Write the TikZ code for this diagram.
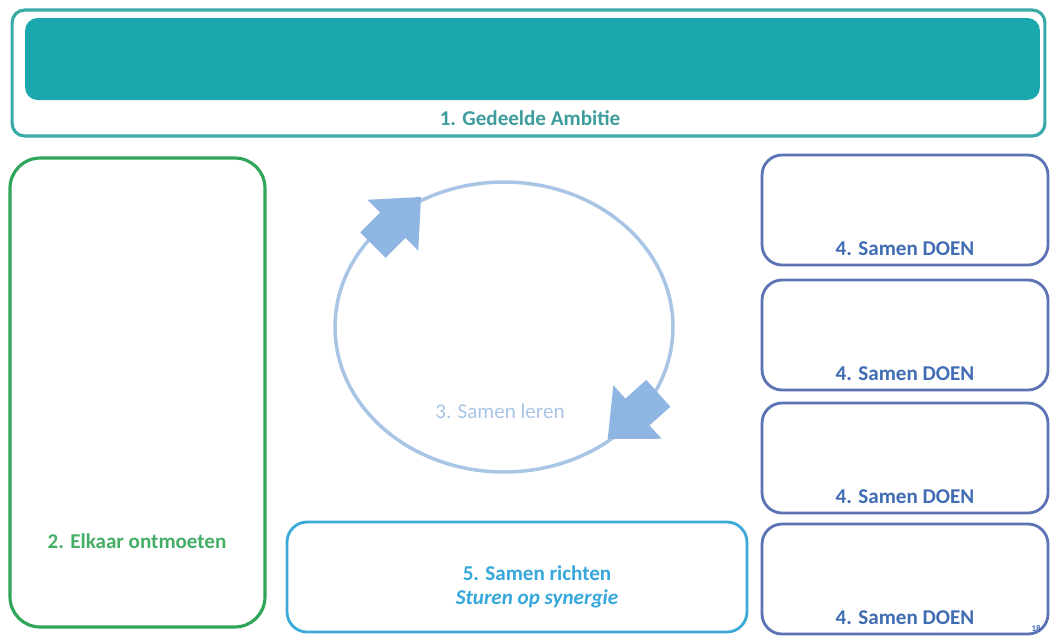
\documentclass[tikz,border=0pt]{standalone}
\usepackage{fontspec}
\setmainfont{Carlito}

\definecolor{tealfill}{HTML}{1AA8AE}
\definecolor{tealline}{HTML}{3AAAA8}
\definecolor{tealtext}{HTML}{3E9C9C}
\definecolor{greenline}{HTML}{2FA65A}
\definecolor{greentext}{HTML}{45AE66}
\definecolor{cycleline}{HTML}{A9C5E5}
\definecolor{cyclefill}{HTML}{8FB5E3}
\definecolor{doeline}{HTML}{5B72B5}
\definecolor{doetext}{HTML}{406CB3}
\definecolor{richtline}{HTML}{3BAAD8}
\definecolor{richttext}{HTML}{36A7DB}

\tikzset{
  label font/.style={font=\fontsize{12}{14}\selectfont\bfseries},
  doebox/.style={draw=doeline,line width=1.6pt,rounded corners=0.4cm,
    minimum width=5.72cm,minimum height=2.2cm},
  doelabel/.style={label font,text=doetext}
}

\begin{document}
\begin{tikzpicture}[x=0.02cm,y=-0.02cm]
        \useasboundingbox[fill=white] (0,0) rectangle (1050,637);

        % 1. shared ambition
        \node[draw=tealline,line width=1.8pt,rounded corners=0.25cm,
              minimum width=20.66cm,minimum height=2.52cm] (ambitie) at (528.5,73) {};
        \node[fill=tealfill,rounded corners=0.25cm,
              minimum width=20.3cm,minimum height=1.64cm] (banner) at (532.5,59) {};
        \node[label font,text=tealtext] (ambitielabel) at (530,118) {1. Gedeelde Ambitie};

        % 2. meeting
        \node[draw=greenline,line width=1.8pt,rounded corners=0.6cm,
              minimum width=5.1cm,minimum height=9.38cm] (ontmoeten) at (137.5,392.5) {};
        \node[label font,text=greentext] (ontmoetenlabel) at (137,541) {2. Elkaar ontmoeten};

        % 3. learning cycle
        \draw[cycleline,line width=2pt] (504,327) ellipse [x radius=3.38cm,y radius=2.9cm];
        \foreach \px/\py/\a in {397/221/45,633/416/222}{
          \begin{scope}[shift={(\px,\py)},x=1cm,y=1cm,rotate=\a]
            \fill[cyclefill] (-0.68,-0.36) -- (-0.12,-0.36) -- (-0.12,-0.72) -- (0.68,0)
              -- (-0.12,0.72) -- (-0.12,0.36) -- (-0.68,0.36) -- cycle;
          \end{scope}
        }
        \node[font=\fontsize{12}{14}\selectfont,text=cycleline] (lerenlabel) at (500,411) {3. Samen leren};

        % 4. doing together
        \foreach \y/\n in {210/1,335/2,458/3,579/4}{
          \node[doebox] (doen\n) at (905,\y) {};
          \node[doelabel,above=0.1cm] (doenlabel\n) at (doen\n.south) {4. Samen DOEN};
        }

        % 5. steering
        \node[draw=richtline,line width=1.6pt,rounded corners=0.4cm,
              minimum width=9.2cm,minimum height=2.2cm] (richten) at (517,577) {};
        \node[label font,text=richttext,align=center] (richtenlabel) at (537,587)
              {5. Samen richten\\\itshape Sturen op synergie};

        \node[font=\fontsize{5}{6}\selectfont\bfseries,text=doetext] (pagina) at (1036,628) {18};
    \end{tikzpicture}
\end{document}
